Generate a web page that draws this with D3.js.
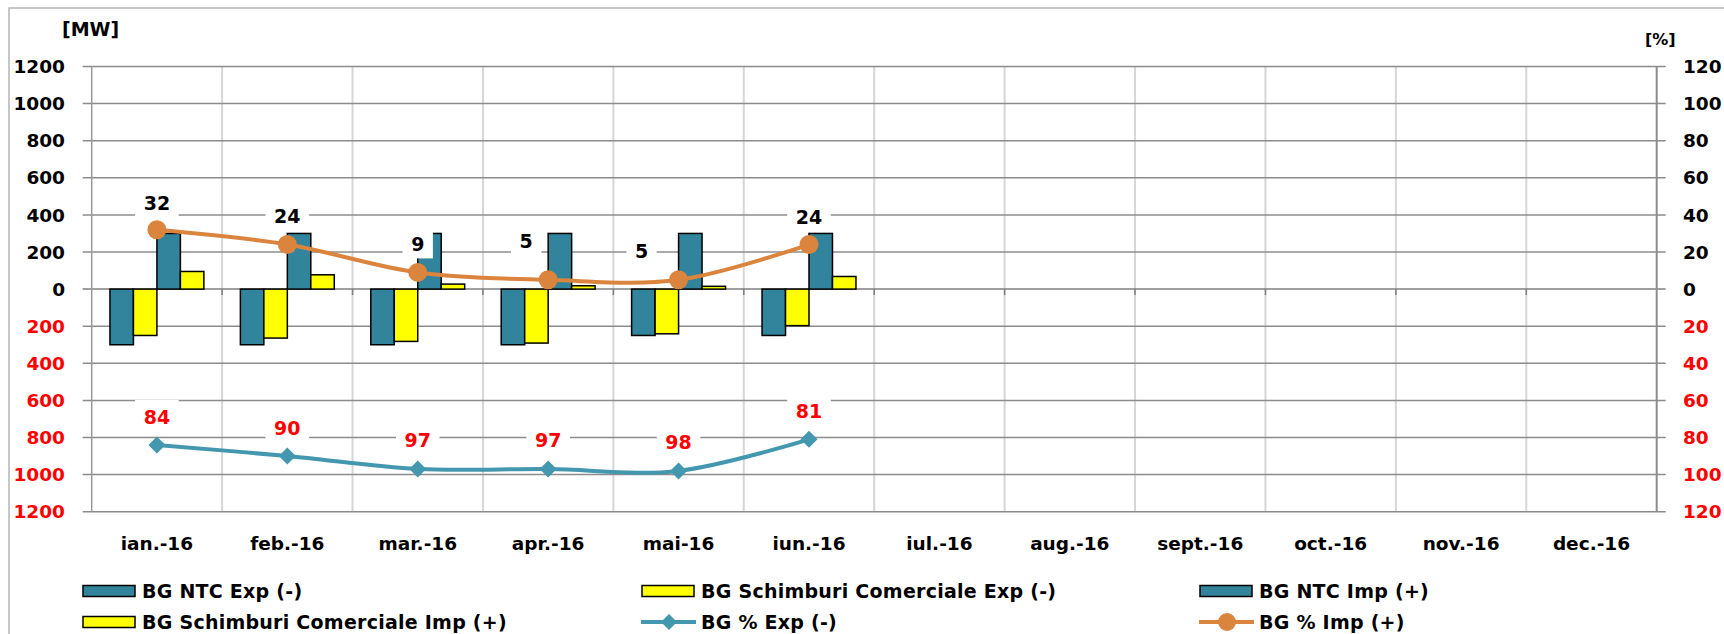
<html>
<head>
<script src="https://d3js.org/d3.v7.min.js"></script>
<style>
body { margin: 0; background: #fff; }
svg { display: block; font-family: 'DejaVu Sans', Verdana, sans-serif; font-weight: bold; }
</style>
</head>
<body>
<svg></svg>
<script>

var width = 1724;
var height = 634;

// data
var months = ["ian.-16", "feb.-16", "mar.-16", "apr.-16", "mai-16", "iun.-16",
	"iul.-16", "aug.-16", "sept.-16", "oct.-16", "nov.-16", "dec.-16"];
var ntcExp = [300, 300, 300, 300, 250, 250];
var scExp = [250, 264, 282, 291, 241, 197];
var ntcImp = [300, 300, 300, 300, 300, 300];
var scImp = [95, 77, 27, 18, 15, 68];
var pctExp = [84, 90, 97, 97, 98, 81];
var pctImp = [32, 24, 9, 5, 5, 24];
var mwTicks = [-1200, -1000, -800, -600, -400, -200, 0, 200, 400, 600, 800, 1000, 1200];
var pctTicks = [-120, -100, -80, -60, -40, -20, 0, 20, 40, 60, 80, 100, 120];

var teal = "#31849b";
var yellow = "#ffff00";
var lineTeal = "#4397ae";
var orange = "#db843d";
var red = "#ff0000";

var svg = d3.select("svg").attr("width", width).attr("height", height);

// outer chart border
svg.append("rect").attr("x", 9).attr("y", 8).attr("width", width + 10).attr("height", height + 10)
	.style("fill", "none").style("stroke", "#b4b4b4").style("stroke-width", 1.5);

var plotLeft = 91.7, plotRight = 1656.7, plotTop = 66.5, plotBottom = 511.7;

var x = d3.scaleBand().domain(months).range([plotLeft, plotRight]);
var y = d3.scaleLinear().domain([-1200, 1200]).range([plotBottom, plotTop]);
var yP = d3.scaleLinear().domain([-120, 120]).range([plotBottom, plotTop]);
var bw = x.bandwidth() * 0.18;
var cx = function (i) { return x(months[i]) + x.bandwidth() / 2; };

// vertical gridlines
svg.selectAll(".vgrid").data(months.slice(1)).enter().append("line")
	.attr("x1", function (d) { return x(d); }).attr("x2", function (d) { return x(d); })
	.attr("y1", plotTop).attr("y2", plotBottom)
	.style("stroke", "#d6d6d6").style("stroke-width", 2);

// horizontal gridlines with ticks on both sides
svg.selectAll(".hgrid").data(mwTicks).enter().append("line")
	.attr("x1", plotLeft - 9).attr("x2", plotRight + 9)
	.attr("y1", function (d) { return y(d); }).attr("y2", function (d) { return y(d); })
	.style("stroke", function (d) { return d == 0 ? "#7f7f7f" : "#8c8c8c"; })
	.style("stroke-width", 1.5);

// small ticks under the zero line
svg.selectAll(".ctick").data(months.slice(1)).enter().append("line")
	.attr("x1", function (d) { return x(d); }).attr("x2", function (d) { return x(d); })
	.attr("y1", y(0)).attr("y2", y(0) + 6)
	.style("stroke", "#7f7f7f").style("stroke-width", 1.5);

// axis lines
svg.append("line").attr("x1", plotLeft).attr("x2", plotLeft).attr("y1", plotTop).attr("y2", plotBottom)
	.style("stroke", "#999").style("stroke-width", 1.5);
svg.append("line").attr("x1", plotRight).attr("x2", plotRight).attr("y1", plotTop).attr("y2", plotBottom)
	.style("stroke", "#8c8c8c").style("stroke-width", 2);

// axis labels
svg.selectAll(".ylab").data(mwTicks).enter().append("text")
	.attr("x", 65).attr("y", function (d) { return y(d); }).attr("dy", "0.36em")
	.attr("text-anchor", "end").style("font-size", "18.5px")
	.style("fill", function (d) { return d < 0 ? red : "#000"; })
	.text(function (d) { return Math.abs(d); });
svg.selectAll(".plab").data(pctTicks).enter().append("text")
	.attr("x", 1683).attr("y", function (d) { return yP(d); }).attr("dy", "0.36em")
	.style("font-size", "18.5px")
	.style("fill", function (d) { return d < 0 ? red : "#000"; })
	.text(function (d) { return Math.abs(d); });

svg.append("text").attr("x", 62).attr("y", 29).attr("dy", "0.36em")
	.style("font-size", "19px").text("[MW]");
svg.append("text").attr("x", 1645).attr("y", 39).attr("dy", "0.36em")
	.style("font-size", "16px").text("[%]");

svg.selectAll(".xlab").data(months).enter().append("text")
	.attr("x", function (d, i) { return cx(i); }).attr("y", 543).attr("dy", "0.36em")
	.attr("text-anchor", "middle").style("font-size", "18.5px")
	.text(function (d) { return d; });

// bars: four per month
var barSeries = [
	{ values: ntcExp, sign: -1, color: teal, slot: 0 },
	{ values: scExp, sign: -1, color: yellow, slot: 1 },
	{ values: ntcImp, sign: 1, color: teal, slot: 2 },
	{ values: scImp, sign: 1, color: yellow, slot: 3 }
];
barSeries.forEach(function (s) {
	svg.selectAll(null).data(s.values).enter().append("rect")
		.attr("x", function (d, i) { return cx(i) - 2 * bw + s.slot * bw; })
		.attr("width", bw)
		.attr("y", function (d) { return s.sign > 0 ? y(d) : y(0); })
		.attr("height", function (d) { return Math.abs(y(0) - y(d)); })
		.style("fill", s.color).style("stroke", "#000").style("stroke-width", 1.5);
});

// smoothed percentage lines
var line = d3.line().curve(d3.curveCatmullRom.alpha(0));
var expPts = pctExp.map(function (d, i) { return [cx(i), yP(-d)]; });
var impPts = pctImp.map(function (d, i) { return [cx(i), yP(d)]; });

svg.append("path").attr("d", line(expPts))
	.style("fill", "none").style("stroke", lineTeal).style("stroke-width", 4);
svg.append("path").attr("d", line(impPts))
	.style("fill", "none").style("stroke", orange).style("stroke-width", 4);

var diamond = function (px, py, r) {
	return "M" + px + "," + (py - r) + "L" + (px + r) + "," + py + "L" + px + "," + (py + r) + "L" + (px - r) + "," + py + "Z";
};
svg.selectAll(null).data(expPts).enter().append("path")
	.attr("d", function (d) { return diamond(d[0], d[1], 8.5); })
	.style("fill", lineTeal);
svg.selectAll(null).data(impPts).enter().append("circle")
	.attr("cx", function (d) { return d[0]; }).attr("cy", function (d) { return d[1]; })
	.attr("r", 9.5).style("fill", orange);

// data labels with white boxes (two import labels were moved by hand in the original)
var impNudge = [[0, -27], [0, -28], [0, -28], [-22, -39], [-37, -29], [0, -27]];
var expNudge = [[0, -28], [0, -28], [0, -29], [0, -29], [0, -29], [0, -28]];

function dataLabels(values, pts, nudge, color) {
	var g = svg.selectAll(null).data(values).enter().append("g")
		.attr("transform", function (d, i) {
			return "translate(" + (pts[i][0] + nudge[i][0]) + "," + (pts[i][1] + nudge[i][1]) + ")";
		});
	g.append("rect")
		.attr("x", function (d) { return -(String(d).length * 13.3 + 17) / 2; })
		.attr("width", function (d) { return String(d).length * 13.3 + 17; })
		.attr("y", -17).attr("height", 31)
		.style("fill", "#fff");
	g.append("text").attr("text-anchor", "middle").attr("dy", "0.36em")
		.style("font-size", "19px").style("fill", color)
		.text(function (d) { return d; });
}
dataLabels(pctImp, impPts, impNudge, "#000");
dataLabels(pctExp, expPts, expNudge, red);

// legend
var legendItems = [
	{ name: "BG NTC Exp (-)", kind: "bar", color: teal },
	{ name: "BG Schimburi Comerciale Exp (-)", kind: "bar", color: yellow },
	{ name: "BG NTC Imp (+)", kind: "bar", color: teal },
	{ name: "BG Schimburi Comerciale Imp (+)", kind: "bar", color: yellow },
	{ name: "BG % Exp (-)", kind: "diamond", color: lineTeal },
	{ name: "BG % Imp (+)", kind: "circle", color: orange }
];
var colX = [83, 642, 1200];
var rowY = [591, 622];

var lg = svg.selectAll(".legend").data(legendItems).enter().append("g")
	.attr("transform", function (d, i) {
		return "translate(" + colX[i % 3] + "," + rowY[Math.floor(i / 3)] + ")";
	});
lg.each(function (d) {
	var g = d3.select(this);
	if (d.kind == "bar") {
		g.append("rect").attr("x", 0).attr("y", -5.5).attr("width", 52).attr("height", 11)
			.style("fill", d.color).style("stroke", "#000").style("stroke-width", 1.5);
	} else {
		g.append("line").attr("x1", -1).attr("x2", 54).attr("y1", 0).attr("y2", 0)
			.style("stroke", d.color).style("stroke-width", 4);
		if (d.kind == "diamond") {
			g.append("path").attr("d", diamond(27, 0, 8)).style("fill", d.color);
		} else {
			g.append("circle").attr("cx", 27).attr("cy", 0).attr("r", 9).style("fill", d.color);
		}
	}
	g.append("text").attr("x", 59).attr("dy", "0.36em").style("font-size", "19px")
		.style("letter-spacing", "0.25px")
		.text(d.name);
});

</script>
</body>
</html>
